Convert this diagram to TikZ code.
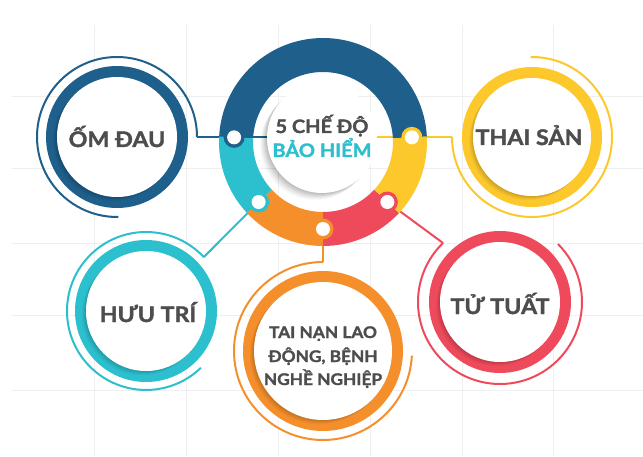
\documentclass[tikz,border=0pt]{standalone}
\usepackage{fontspec}
\setmainfont{Lato}[BoldFeatures={FakeBold=1.6,FakeStretch=1.08}]
\definecolor{cblue}{HTML}{1F5F8B}
\definecolor{ccyan}{HTML}{2CBFCE}
\definecolor{corange}{HTML}{F48F2B}
\definecolor{cred}{HTML}{EF4A5B}
\definecolor{cyellow}{HTML}{FDC82C}
\definecolor{ctext}{HTML}{4D4D4F}
\definecolor{cgrid}{HTML}{EFEFEF}
\newcommand\mybubble[6]{% center, color, rout, rin, rthin, arc from
  \begin{scope}[shift={(#1)}]
    \fill[#2] (0,0) circle (#3);
    \foreach \s/\o in {4/0.035,3/0.04,2/0.05,1/0.06}
      \fill[black,opacity=\o] (-\s,-\s) circle (#4);
    \fill[white] (0,0) circle (#4);
    \draw[#2,arcline] (#6:#5) arc (#6:\myarcend:#5);
  \end{scope}}
\begin{document}
\begin{tikzpicture}[x=1pt,y=1pt,
  txt/.style={font=\bfseries\fontsize{21.5}{26}\selectfont, text=ctext, inner sep=0pt, anchor=base},
  smalltxt/.style={font=\bfseries\fontsize{16}{20}\selectfont, text=ctext, inner sep=0pt, anchor=base},
  ctxt/.style={font=\bfseries\fontsize{18.5}{22}\selectfont, inner sep=0pt, anchor=base},
  arcline/.style={line width=2pt},
  conn/.style={line width=2pt},
  gridline/.style={cgrid, line width=0.8pt}]
\useasboundingbox (0,0) rectangle (643,456);
% background grid
\foreach \gx in {94,186,278,370,462,553}
  \draw[gridline] (\gx,0) -- (\gx,431);
\foreach \gy in {360,288,213,141,66}
  \draw[gridline] (12,\gy) -- (643,\gy);

% centres
\coordinate (c) at (323,314);
\coordinate (omc) at (117,319);
\coordinate (tsc) at (532,319);
\coordinate (htc) at (146,145);
\coordinate (tnc) at (323,105);
\coordinate (ttc) at (500,154);
% dots on the ring
\path (c) ++(177:89) coordinate (dL);
\path (c) ++(223:88) coordinate (dC);
\path (c) ++(270:87) coordinate (dO);
\path (c) ++(317:88) coordinate (dR);
\path (c) ++(3:89) coordinate (dY);
\path (c) ++(180:35) coordinate (hL);
\path (c) ++(0:35) coordinate (hR);
% arc start points
\path (omc) ++(0:80) coordinate (omA);
\path (tsc) ++(180:80) coordinate (tsA);
\path (htc) ++(43:79) coordinate (htA);
\path (tnc) ++(90:89) coordinate (tnA);
\path (ttc) ++(134:82) coordinate (ttA);

% connectors
\draw[cblue,conn] (hL |- omA) -- (omA);
\draw[cyellow,conn] (hR |- tsA) -- (tsA);
\draw[ccyan,conn] (dC) -- (htA);
\draw[corange,conn] (dO) -- (tnA);
\draw[cred,conn] (dR) -- (ttA);

% outer bubbles
\def\myarcend{271}\mybubble{omc}{cblue}{71}{60}{80}{0}
\def\myarcend{451}\mybubble{tsc}{cyellow}{70}{59}{80}{180}
\def\myarcend{314}\mybubble{htc}{ccyan}{71}{60}{79}{43}
\def\myarcend{357}\mybubble{tnc}{corange}{80}{69}{89}{90}
\def\myarcend{405}\mybubble{ttc}{cred}{71}{60}{82}{134}

% central ring
\begin{scope}[shift={(c)}]
  \fill[cblue] (3:104) arc (3:177:104) -- (177:70) arc (177:3:70) -- cycle;
  \fill[ccyan] (177:104) arc (177:223:104) -- (223:70) arc (223:177:70) -- cycle;
  \fill[corange] (223:104) arc (223:270:104) -- (270:70) arc (270:223:70) -- cycle;
  \fill[cred] (270:104) arc (270:317:104) -- (317:70) arc (317:270:70) -- cycle;
  \fill[cyellow] (317:104) arc (317:363:104) -- (363:70) arc (363:317:70) -- cycle;
\end{scope}
\fill[cblue] (dL) circle (10.5); \fill[white] (dL) circle (7);
\fill[ccyan] (dC) circle (10.5); \fill[white] (dC) circle (7);
\fill[corange] (dO) circle (10.5); \fill[white] (dO) circle (7);
\fill[cred] (dR) circle (10.5); \fill[white] (dR) circle (7);
\fill[cyellow] (dY) circle (10.5); \fill[white] (dY) circle (7);

% central disk
\begin{scope}[shift={(322,318)}]
  \foreach \s/\o in {7/0.025,6/0.03,5/0.03,4/0.04,3/0.05,2/0.05,1/0.06}
    \fill[black,opacity=\o] (-\s,-\s) circle (55);
  \fill[white] (0,0) circle (55);
\end{scope}

% texts
\node[ctxt,text=ctext] (t1) at (322,323) {5 CHẾ ĐỘ};
\node[ctxt,text=ccyan] (t2) at (322,299) {BẢO HIỂM};
\node[txt] (om) at (117,309) {ỐM ĐAU};
\node[txt] (ts) at (529,311) {THAI SẢN};
\node[txt] (ht) at (148,134) {HƯU TRÍ};
\node[txt] (tt) at (500,142) {TỬ TUẤT};
\node[smalltxt] (tn1) at (323,118) {TAI NẠN LAO};
\node[smalltxt] (tn2) at (323,94) {ĐỘNG, BỆNH};
\node[smalltxt] (tn3) at (323,71) {NGHỀ NGHIỆP};
\end{tikzpicture}
\end{document}
